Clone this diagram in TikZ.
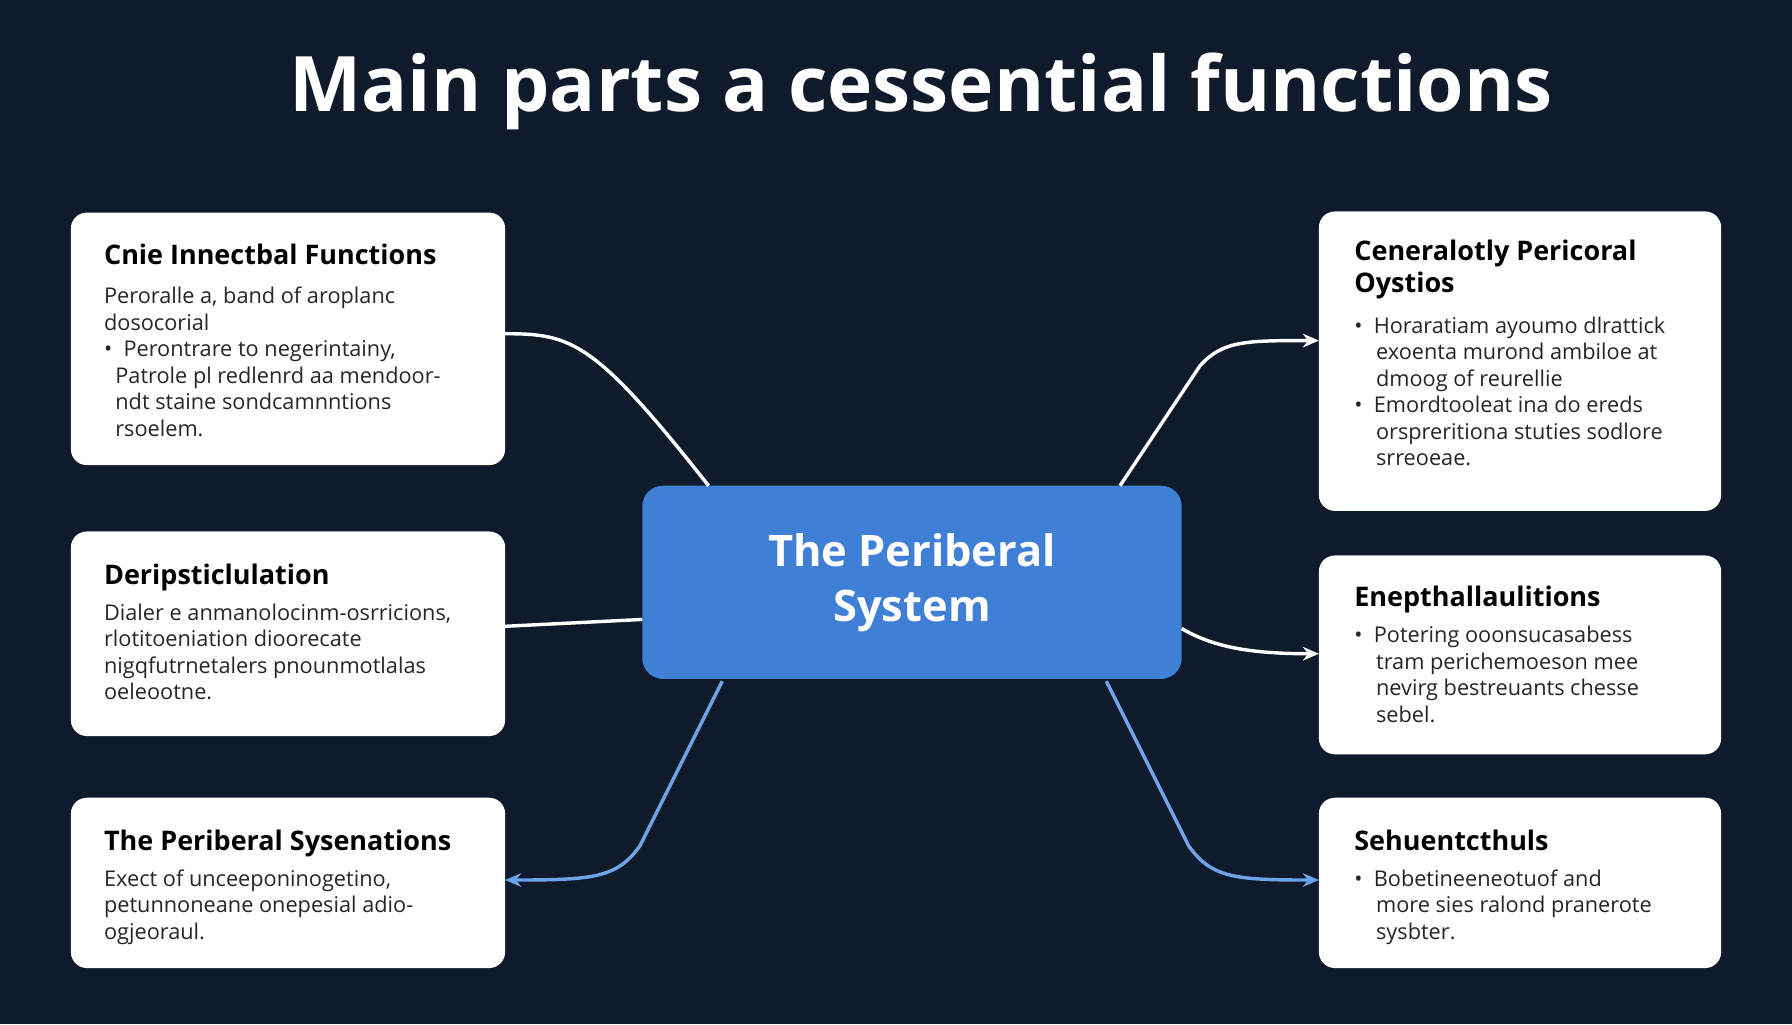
\documentclass[tikz,border=0pt]{standalone}
\usepackage{fontspec}
\setmainfont{Open Sans}
\usetikzlibrary{arrows.meta}
\definecolor{bg}{HTML}{0F1A2B}
\definecolor{cblue}{HTML}{3F7FD6}
\definecolor{lblue}{HTML}{6FA3E8}
\begin{document}
\begin{tikzpicture}[x=0.5pt,y=-0.5pt,
 box/.style={draw=none,fill=white,rounded corners=7pt},
 head/.style={anchor=north west,font=\bfseries\fontsize{11.8}{14}\selectfont,text=black,align=left},
 body/.style={anchor=north west,font=\fontsize{9.5}{11.6}\selectfont,text=black!85,align=left},
 wl/.style={draw=white,line width=1.5pt},
 bl/.style={draw=lblue,line width=1.5pt},
 arr/.style={-{Stealth[length=7pt,width=6pt]}}]
\fill[bg] (0,0) rectangle (1568,896);
\useasboundingbox (0,0) rectangle (1568,896);
\node[font=\bfseries\fontsize{33.5}{38}\selectfont,text=white] (title) at (806,80) {Main parts a cessential functions};
% boxes
\path[box] (62,186) rectangle (442,407); \coordinate (L1) at (442,292);
\path[box] (62,465) rectangle (442,644); \coordinate (L2) at (442,548);
\path[box] (62,698) rectangle (442,847); \coordinate (L3) at (442,770);
\path[box] (1154,185) rectangle (1506,447); \coordinate (R1) at (1154,298);
\path[box] (1154,486) rectangle (1506,660); \coordinate (R2) at (1154,572);
\path[box] (1154,698) rectangle (1506,847); \coordinate (R3) at (1154,770);
\node[fill=cblue,rounded corners=9pt,minimum width=236pt,minimum height=84.5pt,text=white,align=center,font=\bfseries\fontsize{19}{24}\selectfont] (c) at (798,509.5) {The Periberal\\System};
% texts
\node[head] (h1) at (84,206) {Cnie Innectbal Functions};
\node[body] (b1) at (84,244) {Peroralle a, band of aroplanc\\dosocorial\\\textbullet\ \ Perontrare to negerintainy,\\\ \ Patrole pl redlenrd aa mendoor-\\\ \ ndt staine sondcamnntions\\\ \ rsoelem.};
\node[head] (h2) at (84,486) {Deripsticlulation};
\node[body] (b2) at (84,521) {Dialer e anmanolocinm-osrricions,\\rlotitoeniation dioorecate\\nigqfutrnetalers pnounmotlalas\\oeleootne.};
\node[head] (h3) at (84,719) {The Periberal Sysenations};
\node[body] (b3) at (84,754) {Exect of unceeponinogetino,\\petunnoneane onepesial adio-\\ogjeoraul.};
\node[head] (h4) at (1178,203) {Ceneralotly Pericoral\\Oystios};
\node[body] (b4) at (1178,270) {\textbullet\ \ Horaratiam ayoumo dlrattick\\\quad exoenta murond ambiloe at\\\quad dmoog of reurellie\\\textbullet\ \ Emordtooleat ina do ereds\\\quad orspreritiona stuties sodlore\\\quad srreoeae.};
\node[head] (h5) at (1178,506) {Enepthallaulitions};
\node[body] (b5) at (1178,541) {\textbullet\ \ Potering ooonsucasabess\\\quad tram perichemoeson mee\\\quad nevirg bestreuants chesse\\\quad sebel.};
\node[head] (h6) at (1178,719) {Sehuentcthuls};
\node[body] (b6) at (1178,754) {\textbullet\ \ Bobetineeneotuof and\\\quad more sies ralond pranerote\\\quad sysbter.};
% connectors
\coordinate (c1) at (620,425); \coordinate (c2) at (562,542);
\coordinate (c3) at (632,596); \coordinate (c4) at (980,425);
\coordinate (c5) at (1034,550); \coordinate (c6) at (968,596);
\draw[wl] (L1) .. controls (500,292) and (520,298) .. (c1);
\draw[wl] (L2) -- (c2);
\draw[bl,arr] (c3) -- (560,740) .. controls (540,768) and (520,770) .. (L3);
\draw[wl,arr] (c4) -- (1050,320) .. controls (1070,298) and (1090,298) .. (R1);
\draw[wl,arr] (c5) .. controls (1060,565) and (1090,572) .. (R2);
\draw[bl,arr] (c6) -- (1040,740) .. controls (1060,768) and (1080,770) .. (R3);
\end{tikzpicture}
\end{document}
